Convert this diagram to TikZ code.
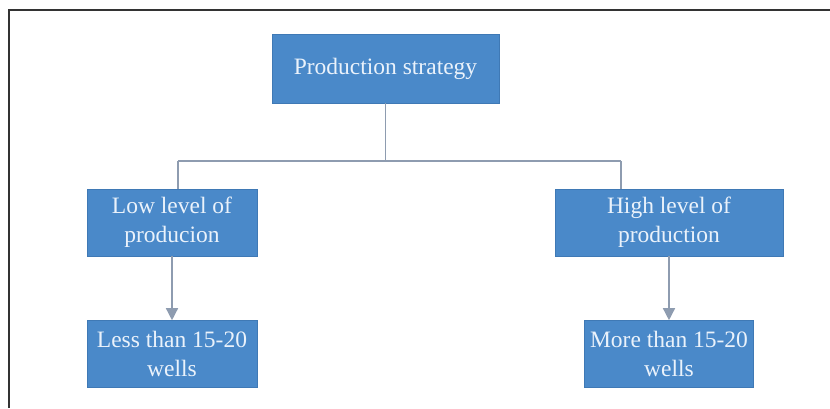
\documentclass[tikz,border=0pt]{standalone}
\usepackage{fontspec}
\setmainfont{Liberation Serif}
\usetikzlibrary{arrows.meta}
\definecolor{boxblue}{HTML}{4A89C9}
\definecolor{boxedge}{HTML}{3F79B5}
\definecolor{txtc}{HTML}{EAF2FB}
\definecolor{linec}{HTML}{8E9CB0}
\definecolor{framec}{HTML}{333333}
\tikzset{
  box/.style={draw=boxedge, line width=0.6pt, fill=boxblue, text=txtc, align=center,
    inner sep=0pt, font=\fontsize{23.5}{29}\selectfont},
  conn/.style={draw=linec, line width=1.4pt},
  arr/.style={conn, -{Triangle[length=12pt,width=12pt]}, shorten >=-0.5pt}
}
\begin{document}
\begin{tikzpicture}[x=1pt,y=-1pt]
\useasboundingbox (0,0) rectangle (830,408);
\fill[white] (0,0) rectangle (830,408);
\draw[framec, line width=2pt] (9,408) -- (9,10) -- (830,10);
\node[box, minimum width=227pt, minimum height=69pt] (top) at (385.5,68.5) {Production strategy};
\node[box, minimum width=170pt, minimum height=67pt] (lmid) at (172,222.5) {Low level of\\producion};
\node[box, minimum width=228pt, minimum height=67pt] (rmid) at (669,222.5) {High level of\\production};
\node[box, minimum width=170pt, minimum height=67pt] (lbot) at (172,353.5) {Less than 15-20\\wells};
\node[box, minimum width=169pt, minimum height=67pt] (rbot) at (669,353.5) {More than 15-20\\wells};
\coordinate (j) at (385.5,161);
\coordinate (jl) at (178,161);
\coordinate (jr) at (621,161);
\draw[conn] (top.south) -- (j);
\draw[conn] (jl) -- (jr);
\draw[conn] (jl) -- (jl |- lmid.north);
\draw[conn] (jr) -- (jr |- rmid.north);
\draw[arr] (lmid.south) -- (lbot.north);
\draw[arr] (rmid.south) -- (rbot.north);
\end{tikzpicture}
\end{document}
